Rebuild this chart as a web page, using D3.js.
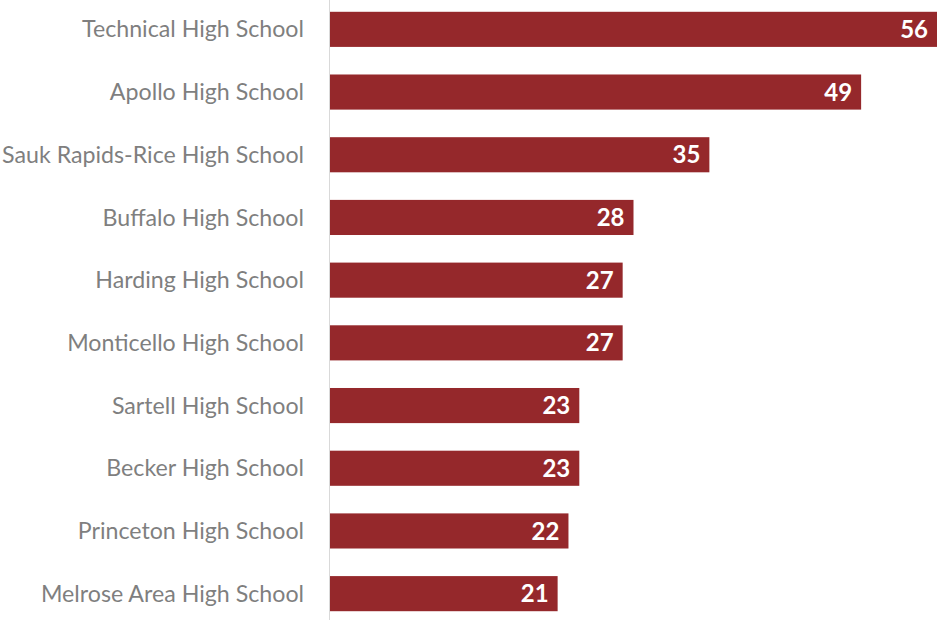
<!DOCTYPE html>
<html>
<head>
<meta charset="utf-8">
<script src="https://cdn.jsdelivr.net/npm/d3@7"></script>
<style>
  body { margin: 0; background: #fff; }
  svg { display: block; }
</style>
</head>
<body>
<div id="chart"></div>
<script>
const schools = ["Technical High School", "Apollo High School", "Sauk Rapids-Rice High School",
  "Buffalo High School", "Harding High School", "Monticello High School", "Sartell High School",
  "Becker High School", "Princeton High School", "Melrose Area High School"];
const counts = [56, 49, 35, 28, 27, 27, 23, 23, 22, 21];

var width = 937,
    height = 620,
    left = 330;

var svg = d3.select("#chart")
  .append("svg")
    .attr("width", width)
    .attr("height", height);

var x = d3.scaleLinear()
  .domain([0, 56])
  .range([left, 937]);

var y = d3.scaleBand()
  .domain(schools)
  .range([-2, 625])
  .paddingInner(0.44)
  .paddingOuter(0.22);

// bars
svg.selectAll(".bar")
  .data(schools)
  .enter().append("rect")
    .attr("class", "bar")
    .attr("x", x(0))
    .attr("y", function(d) { return y(d); })
    .attr("width", function(d, i) { return x(counts[i]) - x(0); })
    .attr("height", y.bandwidth())
    .attr("fill", "#95282b");

// category axis line
svg.append("line")
  .attr("x1", left - 0.5).attr("x2", left - 0.5)
  .attr("y1", 0).attr("y2", height)
  .attr("stroke", "#d9d9d9")
  .attr("stroke-width", 1);

// category labels
svg.selectAll(".lbl")
  .data(schools)
  .enter().append("text")
    .attr("class", "lbl")
    .attr("x", 304)
    .attr("y", function(d) { return y(d) + y.bandwidth() / 2; })
    .attr("dy", ".35em")
    .style("text-anchor", "end")
    .style("font-family", "Lato, sans-serif")
    .style("font-size", "23.2px")
    .style("fill", "#7f7f7f")
    .text(function(d) { return d; });

// value labels
svg.selectAll(".val")
  .data(schools)
  .enter().append("text")
    .attr("class", "val")
    .attr("x", function(d, i) { return x(counts[i]) - 9; })
    .attr("y", function(d) { return y(d) + y.bandwidth() / 2; })
    .attr("dy", ".36em")
    .style("text-anchor", "end")
    .style("font-family", "Lato, sans-serif")
    .style("font-weight", "bold")
    .style("font-size", "24px")
    .style("fill", "#fff")
    .text(function(d, i) { return counts[i]; });
</script>
</body>
</html>
